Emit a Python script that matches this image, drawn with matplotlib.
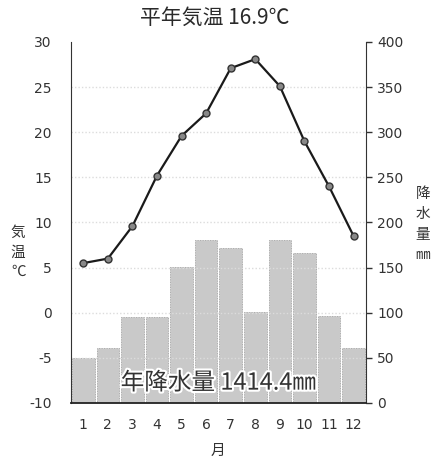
import matplotlib
matplotlib.use("Agg")
import matplotlib.pyplot as plt
import matplotlib.patheffects as pe

plt.rcParams['font.family'] = ['Noto Sans CJK JP', 'DejaVu Sans']
plt.rcParams['axes.unicode_minus'] = False

months = [1, 2, 3, 4, 5, 6, 7, 8, 9, 10, 11, 12]
month_labels = [str(m) for m in months]
temperature = [5.5, 6.0, 9.6, 15.2, 19.6, 22.1, 27.1, 28.1, 25.1, 19.0, 14.0, 8.5]
precipitation = [50.0, 60.5, 95.5, 95.5, 151.0, 180.5, 171.5, 100.5, 180.5, 166.5, 96.0, 60.5]
temp_ticks = [-10, -5, 0, 5, 10, 15, 20, 25, 30]
prec_ticks = [0, 50, 100, 150, 200, 250, 300, 350, 400]

fig = plt.figure(figsize=(4.33, 4.63), dpi=100)
ax = fig.add_axes([0.164, 0.1296, 0.681, 0.7797])
ax2 = ax.twinx()

ax.set_zorder(ax2.get_zorder() + 1)
ax.patch.set_visible(False)

ax2.bar(months, precipitation, width=0.92, color='#c9c9c9', edgecolor='#9a9a9a',
        linewidth=0.6, linestyle=(0, (1, 1)), zorder=2)
ax2.set_ylim(0, 400)
ax2.set_yticks(prec_ticks)

ax.set_ylim(-10, 30)
ax.set_xlim(0.5, 12.5)
ax.set_yticks(temp_ticks)
ax.set_xticks(months)
ax.set_xticklabels(month_labels)

for t in temp_ticks[1:-1]:
    ax.axhline(t, color='#dcdcdc', linewidth=1.0, linestyle=(0, (1, 1.5)), zorder=1)

ax.plot(months, temperature, color='#1a1a1a', linewidth=1.6, zorder=3)
ax.plot(months, temperature, linestyle='none', marker='o', markersize=5,
        markerfacecolor='#888888', markeredgecolor='#333333', markeredgewidth=1.0, zorder=4)

for a in (ax, ax2):
    a.spines['top'].set_visible(False)
    a.tick_params(labelsize=10, colors='#333333')
    for lbl in a.get_yticklabels() + a.get_xticklabels():
        lbl.set_fontfamily('DejaVu Sans')
ax.spines['left'].set_color('#333333')
ax.spines['bottom'].set_color('#222222')
ax.spines['bottom'].set_linewidth(1.3)
ax2.spines['right'].set_color('#333333')
ax2.spines['left'].set_visible(False)
ax2.spines['bottom'].set_visible(False)
ax.spines['right'].set_visible(False)
ax.tick_params(axis='y', length=0, pad=14)
ax.tick_params(axis='x', length=0, pad=11)
ax2.tick_params(axis='y', length=4, width=1, pad=4)

fig.text(0.497, 0.962, '平年気温 16.9℃', ha='center', va='center', fontsize=15, color='#2a2a2a')
fig.text(0.042, 0.455, '気\n温\n℃', ha='center', va='center', fontsize=10.5, color='#333333', linespacing=1.5)
fig.text(0.977, 0.515, '降\n水\n量\n㎜', ha='center', va='center', fontsize=10.5, color='#333333', linespacing=1.6)
fig.text(0.503, 0.026, '月', ha='center', va='center', fontsize=10.5, color='#333333')

ax.text(0.5, 0.055, '年降水量 1414.4㎜', transform=ax.transAxes, ha='center', va='center',
        fontsize=17, color='#333333', zorder=6,
        path_effects=[pe.withStroke(linewidth=3, foreground='white')])

fig.savefig('out.png', dpi=100)
